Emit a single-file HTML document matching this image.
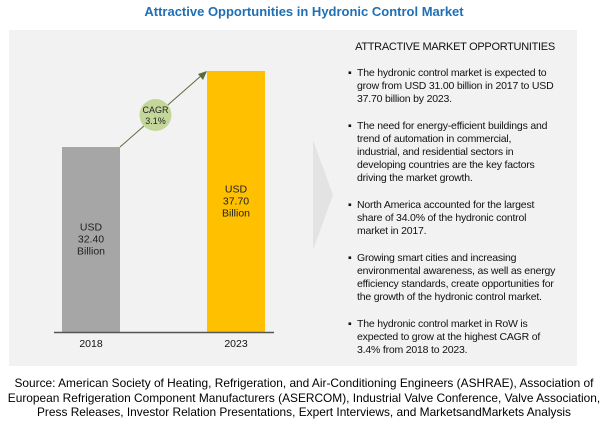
<!DOCTYPE html>
<html><head><meta charset="utf-8"><style>
body{margin:0;width:608px;height:424px;background:#fff;font-family:"Liberation Sans",sans-serif;position:relative;overflow:hidden}
.abs{position:absolute}
#title{left:0;width:608px;top:4px;text-align:center;color:#1f6fb5;font-weight:bold;font-size:13px}
#panel{left:9px;top:30px;width:568px;height:336px;background:#f2f2f2}
#head{left:340px;top:41px;width:230px;text-align:center;font-size:11px;color:#111;letter-spacing:-0.3px}
.b{position:absolute;left:348px;font-size:10.5px;line-height:13px;color:#111;letter-spacing:-0.2px}
.b span.dot{position:absolute;left:0;top:0}
.b div{margin-left:9px;white-space:nowrap}
#src{left:0;width:608px;top:376px;text-align:center;font-size:11.9px;line-height:14.5px;color:#000}
</style></head><body>
<div id="title" class="abs">Attractive Opportunities in Hydronic Control Market</div>
<div id="panel" class="abs"></div>
<svg class="abs" style="left:0;top:0" width="608" height="424">
<polygon points="313,140 333,195 313,250" fill="#e3e3e3"/>
<g id="g"></g>
</svg>
<div id="head" class="abs">ATTRACTIVE MARKET OPPORTUNITIES</div>
<div class="b" style="top:67px"><span class="dot">▪</span><div>The hydronic control market is expected to<br>grow from USD 31.00 billion in 2017 to USD<br>37.70 billion by 2023.</div></div>
<div class="b" style="top:120px"><span class="dot">▪</span><div>The need for energy-efficient buildings and<br>trend of automation in commercial,<br>industrial, and residential sectors in<br>developing countries are the key factors<br>driving the market growth.</div></div>
<div class="b" style="top:199px"><span class="dot">▪</span><div>North America accounted for the largest<br>share of 34.0% of the hydronic control<br>market in 2017.</div></div>
<div class="b" style="top:252px"><span class="dot">▪</span><div>Growing smart cities and increasing<br>environmental awareness, as well as energy<br>efficiency standards, create opportunities for<br>the growth of the hydronic control market.</div></div>
<div class="b" style="top:318px"><span class="dot">▪</span><div>The hydronic control market in RoW is<br>expected to grow at the highest CAGR of<br>3.4% from 2018 to 2023.</div></div>
<div id="src" class="abs">Source: American Society of Heating, Refrigeration, and Air-Conditioning Engineers (ASHRAE), Association of<br>European Refrigeration Component Manufacturers (ASERCOM), Industrial Valve Conference, Valve Association,<br>Press Releases, Investor Relation Presentations, Expert Interviews, and MarketsandMarkets Analysis</div>
<script>
const categories=["2018","2023"];
const values=[32.4,37.7];
const valueLabels=["32.40","37.70"];
const cagrLabel="3.1%";
const colors=["#a6a6a6","#ffc000"];
const NS="http://www.w3.org/2000/svg";
const g=document.getElementById('g');
const base=332, v0=19.5, k=14.34;
function y(v){return base-(v-v0)*k;}
function x(i){return 62+i*145;}
const bw=58;
function mk(t,a){const e=document.createElementNS(NS,t);for(const n in a)e.setAttribute(n,a[n]);g.appendChild(e);return e;}
values.forEach((v,i)=>{
 const r=mk('rect',{x:x(i),y:y(v),width:bw,height:base-y(v),fill:colors[i]});
 
 
 const cy=(y(v)+base)/2+1;
 ["USD",valueLabels[i],"Billion"].forEach((s,j)=>{
  const t=mk('text',{x:x(i)+bw/2,y:cy-10+j*12,'text-anchor':'middle','font-size':'10.5',fill:'#222','font-family':'Liberation Sans'});
  t.textContent=s;
  
  
 });
 const c=mk('text',{x:x(i)+bw/2,y:347,'text-anchor':'middle','font-size':'10.5',fill:'#111','font-family':'Liberation Sans'});
 c.textContent=categories[i];
 
 
});
const ax=mk('line',{x1:54,x2:274,y1:base+0.5,y2:base+0.5,stroke:'#555','stroke-width':1.5});


const x1=x(0)+bw,y1=y(values[0]),x2=x(1),y2=y(values[1]);
const ln=mk('line',{x1:x1,y1:y1,x2:x2-5,y2:y2+4,stroke:'#5a6b3a','stroke-width':1});


mk('polygon',{points:`${x2},${y2} ${x2-9},${y2+3} ${x2-4},${y2+9}`,fill:'#5a6b3a'});
const cx=(x1+x2)/2-8,cyy=(y1+y2)/2+6;
const circ=mk('circle',{cx:cx,cy:cyy,r:16,fill:'#c4d79b'});


["CAGR",cagrLabel].forEach((s,j)=>{const t=mk('text',{x:cx,y:cyy-2+j*11,'text-anchor':'middle','font-size':'9',fill:'#222','font-family':'Liberation Sans'});t.textContent=s;
 
 });
</script>
</body></html>
